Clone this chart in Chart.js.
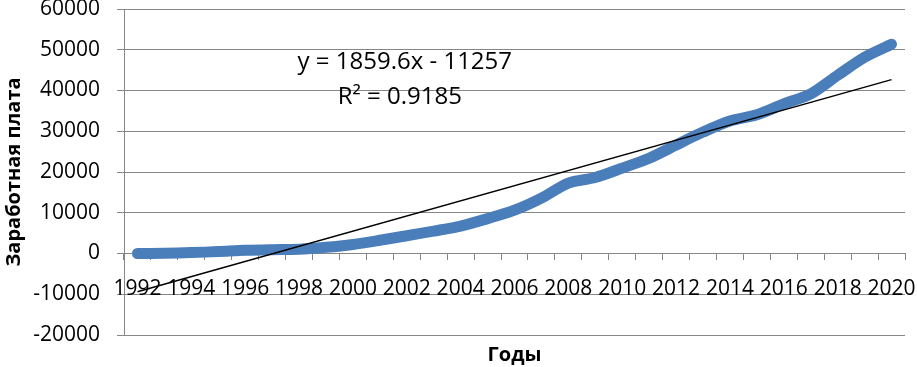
<!DOCTYPE html>
<html>
<head>
<meta charset="utf-8">
<script src="https://cdn.jsdelivr.net/npm/chart.js@4"></script>
<style>
  html, body { margin: 0; padding: 0; background: #fff; }
  #wrap { width: 917px; height: 367px; }
</style>
</head>
<body>
<div id="wrap"><canvas id="wageChart" width="917" height="367"></canvas></div>
<script>
// годы и средняя заработная плата
const years = ['1992','1993','1994','1995','1996','1997','1998','1999','2000','2001',
  '2002','2003','2004','2005','2006','2007','2008','2009','2010','2011',
  '2012','2013','2014','2015','2016','2017','2018','2019','2020'];
const wages = [6, 59, 220, 472, 790, 950, 1052, 1523, 2223, 3240,
  4360, 5499, 6740, 8555, 10634, 13593, 17290, 18638, 20952, 23369,
  26629, 29792, 32495, 34030, 36709, 39167, 43724, 48145, 51344];
// линия тренда: значения на концах (1992 и 2020)
const trendEnds = [-9397, 42671];
const yTicks = [60000, 50000, 40000, 30000, 20000, 10000, 0, -10000, -20000];
const trendText = ['y = 1859.6x - 11257', 'R² = 0.9185'];

const trendData = years.map((y, i) =>
  i === 0 ? trendEnds[0] : (i === years.length - 1 ? trendEnds[1] : null));

const gray = '#868686';
const font = { family: 'Open Sans', size: 21 };
const titleFont = { family: 'Open Sans', size: 20, weight: 'bold' };

// подпись уравнения тренда
const trendLabel = {
  id: 'trendLabel',
  afterDatasetsDraw(chart) {
    const { ctx, scales } = chart;
    const x = scales.x.getPixelForValue(10);
    ctx.save();
    ctx.font = '24px "Open Sans"';
    ctx.fillStyle = '#000';
    ctx.textAlign = 'center';
    ctx.textBaseline = 'middle';
    ctx.fillText(trendText[0], x - 2, scales.y.getPixelForValue(47000));
    ctx.fillText(trendText[1], x - 7, scales.y.getPixelForValue(38400));
    ctx.restore();
  }
};

const noPad = s => { s.paddingLeft = 0; s.paddingRight = 0; };

const ctx = document.getElementById('wageChart').getContext('2d');
const chart = new Chart(ctx, {
  type: 'line',
  data: {
    labels: years,
    datasets: [{
      label: 'Заработная плата',
      data: wages,
      borderColor: '#4a7ebb',
      borderWidth: 11,
      borderCapStyle: 'round',
      borderJoinStyle: 'round',
      pointRadius: 0,
      tension: 0.3,
      order: 2
    }, {
      label: 'Тренд',
      data: trendData,
      borderColor: '#000',
      borderWidth: 1.5,
      pointRadius: 0,
      spanGaps: true,
      order: 1
    }]
  },
  options: {
    responsive: false,
    animation: false,
    layout: { autoPadding: false, padding: { top: 9, right: 12, left: 0, bottom: 0 } },
    plugins: { legend: { display: false }, tooltip: { enabled: false } },
    scales: {
      x: {
        type: 'category',
        position: { y: 0 },
        offset: true,
        grid: { offset: true, drawOnChartArea: false, drawTicks: true, tickLength: 6, color: gray },
        border: { display: true, color: gray },
        ticks: {
          autoSkip: false, maxRotation: 0, minRotation: 0,
          color: '#000', font: font, padding: 17,
          callback: (v, i) => (i % 2 === 0 ? years[i] : '')
        },
        afterFit: noPad
      },
      x2: {
        type: 'category',
        position: 'bottom',
        labels: years,
        grid: { display: false },
        border: { display: false },
        ticks: { display: false },
        title: { display: true, text: 'Годы', color: '#000', font: titleFont, padding: { top: 0, bottom: 0 } },
        afterFit: s => { s.height = 32; noPad(s); }
      },
      y: {
        min: -20000, max: 60000,
        afterBuildTicks: s => { s.ticks = yTicks.map(v => ({ value: v })); },
        grid: { color: gray, tickLength: 7 },
        border: { color: gray },
        ticks: { color: '#000', font: font, padding: 17, callback: v => String(v) },
        title: { display: true, text: 'Заработная плата', color: '#000', font: titleFont, padding: 2 },
        afterFit: s => { s.width = 124; s.paddingTop = 0; s.paddingBottom = 0; }
      }
    }
  },
  plugins: [trendLabel]
});
</script>
</body>
</html>
